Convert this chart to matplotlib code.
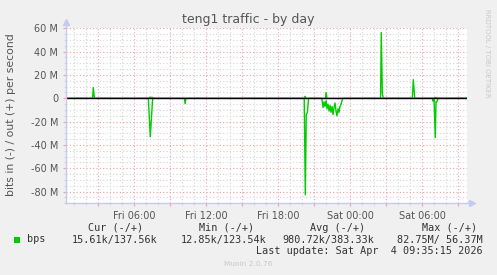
import matplotlib
matplotlib.use("Agg")
import matplotlib.pyplot as plt
from matplotlib.patches import Rectangle
from matplotlib.ticker import MultipleLocator, FuncFormatter

# hours since Fri 00:00, values in M bits per second
out_hours = [0.31, 2.52, 2.58, 2.68, 7.18, 7.23, 7.52, 7.60, 20.14, 20.23, 20.35,
             21.93, 21.98, 22.06, 26.52, 26.58, 26.67, 26.75, 29.17, 29.25, 29.37,
             30.96, 31.02, 31.23, 31.28, 33.70]
out_vals = [0, 0, 9.2, 0, 0, 0.8, 0.8, 0, 0, 1.7, 0,
            0, 5.0, 0, 0, 56.37, 4.0, 0, 0, 16.0, 0,
            0, 0.6, 0.6, 0, 0.14]

in_hours = [0.31, 7.17, 7.33, 7.53, 10.18, 10.23, 10.31,
            20.16, 20.25, 20.33, 20.43, 20.52,
            21.56, 21.64, 21.73, 21.81, 21.89, 21.98, 22.06, 22.14, 22.23, 22.31, 22.39,
            22.48, 22.56, 22.64, 22.73, 22.81, 22.89, 22.98, 23.06, 23.14, 23.23, 23.31,
            23.39, 23.47,
            30.85, 30.90, 30.98, 31.08, 31.14, 31.22, 31.30, 33.70]
in_vals = [0, 0, -33.0, 0, 0, -4.6, 0,
           0, -82.75, -14, -12, 0,
           0, -1, -8, -3, -7, -2, -9, -5, -11, -6, -12,
           -7, -14, -8, -4, -11, -15, -9, -12, -7, -5, -2,
           0, 0,
           0, -2.5, -1, -33.7, -3, -3, 0, -0.02]

x_label_hours = [6, 12, 18, 24, 30]
x_labels = ["Fri 06:00", "Fri 12:00", "Fri 18:00", "Sat 00:00", "Sat 06:00"]

legend_name = "bps"
col_heads = ["Cur (-/+)", "Min (-/+)", "Avg (-/+)", "Max (-/+)"]
col_values = ["15.61k/137.56k", "12.85k/123.54k", "980.72k/383.33k", "82.75M/ 56.37M"]
last_update = "Last update: Sat Apr  4 09:35:15 2026"

W, H = 497, 275
green = "#00cc00"
axis_blue = "#c6c9f2"
txt = "#555555"


def px(x, y):
    return x / W, 1 - y / H


fig = plt.figure(figsize=(W / 100, H / 100), dpi=100, facecolor="#f0f0f0")
ax = fig.add_axes([66 / W, (H - 203.3) / H, 401 / W, 175 / H])
ax.set_facecolor("white")

ax.set_xlim(0.308, 33.725)
ax.set_ylim(-90, 60)

# grid: 1h / 5M minor, 3h / 20M major
ax.xaxis.set_major_locator(MultipleLocator(3))
ax.xaxis.set_minor_locator(MultipleLocator(1))
ax.yaxis.set_major_locator(MultipleLocator(20))
ax.yaxis.set_minor_locator(MultipleLocator(5))
ax.grid(which="minor", color="#d4d4d4", linestyle=(0, (1, 2)), linewidth=0.8, zorder=0)
ax.grid(which="major", color="#eca2a2", linestyle=(0, (1, 2)), linewidth=0.8, zorder=0)
ax.set_axisbelow(True)

labels_by_hour = dict(zip(x_label_hours, x_labels))
ax.xaxis.set_major_formatter(FuncFormatter(lambda v, p: labels_by_hour.get(int(round(v)), "")))
ax.yaxis.set_major_formatter(FuncFormatter(lambda v, p: "0" if v == 0 else "%d M" % v))

ax.tick_params(which="major", length=2.5, width=0.8, color="#eca2a2", labelsize=7, labelcolor=txt, pad=3)
ax.tick_params(which="minor", length=1.5, width=0.8, color="#d4d4d4")

for s in ax.spines.values():
    s.set_visible(False)

ax.plot(out_hours, out_vals, color=green, lw=1, zorder=3)
ax.plot(in_hours, in_vals, color=green, lw=1, zorder=3)
ax.axhline(0, color="black", lw=1, zorder=4)

# axis lines with arrows
ax.plot([0, 0], [0, 1.03], transform=ax.transAxes, color=axis_blue, lw=1, clip_on=False, zorder=5)
ax.plot([0, 1.01], [0, 0], transform=ax.transAxes, color=axis_blue, lw=1, clip_on=False, zorder=5)
ax.plot([0], [1.035], transform=ax.transAxes, marker="^", ms=4, color=axis_blue, clip_on=False, zorder=5)
ax.plot([1.012], [0], transform=ax.transAxes, marker=">", ms=4, color=axis_blue, clip_on=False, zorder=5)

fig.text(*px(248.5, 19), "teng1 traffic - by day", ha="center", va="center", fontsize=9, color=txt)
fig.text(*px(11, 114.5), "bits in (-) / out (+) per second", ha="center", va="center",
         rotation=90, fontsize=7.8, color=txt)
fig.text(*px(487.5, 53), "RRDTOOL / TOBI OETIKER", ha="center", va="center",
         rotation=270, fontsize=5, color="#c8c8c8")

# legend block
fig.add_artist(Rectangle(px(14, 242.5), 6 / W, 6 / H, transform=fig.transFigure,
                         facecolor=green, edgecolor="none"))
mono = dict(family="DejaVu Sans Mono", fontsize=7.3, color="#333333", va="center")
fig.text(*px(27, 239.5), legend_name, ha="left", **mono)
head_right = [143, 254, 365, 477]
val_right = [158, 267, 374, 483]
for h, v, hr, vr in zip(col_heads, col_values, head_right, val_right):
    fig.text(*px(hr, 227.7), h, ha="right", **mono)
    fig.text(*px(vr, 239.5), v, ha="right", **mono)
fig.text(*px(483, 251), last_update, ha="right", **mono)
fig.text(*px(248, 264), "Munin 2.0.76", ha="center", va="center", fontsize=5.3, color="#c8c8c8")

fig.savefig("out.png", dpi=100, facecolor=fig.get_facecolor())
